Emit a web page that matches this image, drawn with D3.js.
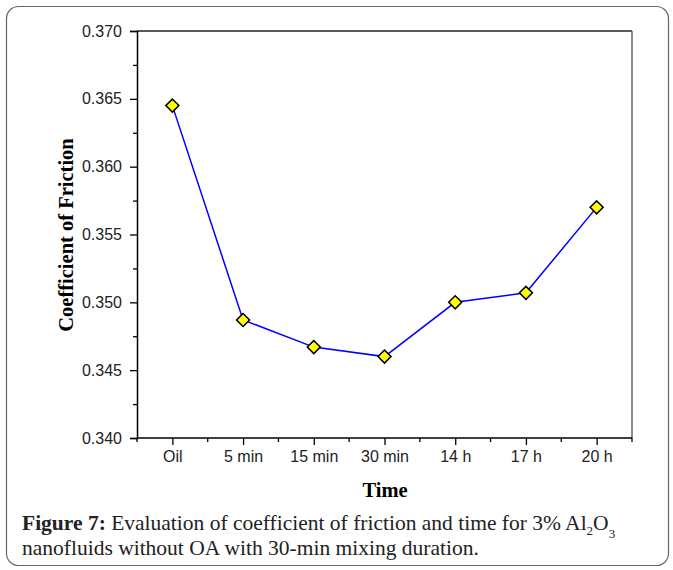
<!DOCTYPE html>
<html><head><meta charset="utf-8">
<script src="https://cdn.jsdelivr.net/npm/d3@7"></script>
<style>body{margin:0;background:#fff}svg{display:block}</style>
</head><body>
<script>
const categories = ["Oil","5 min","15 min","30 min","14 h","17 h","20 h"];
const cof = [0.3645,0.3487,0.3467,0.3460,0.3500,0.3507,0.3570];
const yTicks = [0.340,0.345,0.350,0.355,0.360,0.365,0.370];
const yMinorTicks = [0.3425,0.3475,0.3525,0.3575,0.3625,0.3675];

const W=673,H=570;
const svg=d3.select("body").append("svg").attr("width",W).attr("height",H);
svg.append("rect").attr("x",6.5).attr("y",6.5).attr("width",662).attr("height",559)
  .attr("rx",12).attr("fill","#fff").attr("stroke","#666").attr("stroke-width",1.2);

const L=137,R=632,T=31,B=438;
const x=d3.scalePoint().domain(categories).range([L,R]).padding(0.5);
const y=d3.scaleLinear().domain([0.340,0.370]).range([B,T]);
const step=x.step();

// frame top/right
svg.append("line").attr("x1",L).attr("x2",R).attr("y1",T).attr("y2",T).attr("stroke","#222").attr("stroke-width",1.3);
svg.append("line").attr("x1",R).attr("x2",R).attr("y1",T).attr("y2",B).attr("stroke","#666").attr("stroke-width",1.5);

// y axis
const ya=svg.append("g").attr("transform",`translate(${L},0)`)
  .call(d3.axisLeft(y).tickValues(yTicks).tickFormat(d3.format(".3f")).tickSize(7).tickPadding(8));
ya.select(".domain").attr("stroke","#000").attr("stroke-width",1.5);
ya.selectAll(".tick line").attr("stroke-width",1.3);
ya.selectAll("text").attr("font-family","Liberation Sans, Arial, sans-serif").attr("font-size",16).attr("fill","#222");
svg.append("g").attr("transform",`translate(${L},0)`)
  .call(d3.axisLeft(y).tickValues(yMinorTicks).tickFormat("").tickSize(4))
  .call(g=>g.select(".domain").remove()).selectAll("line").attr("stroke-width",1.3);

// x axis
const xa=svg.append("g").attr("transform",`translate(0,${B})`)
  .call(d3.axisBottom(x).tickSize(7).tickPadding(6));
xa.select(".domain").attr("d",`M${L},0H${R}`).attr("stroke","#000").attr("stroke-width",1.5);
xa.selectAll(".tick line").attr("stroke-width",1.3);
xa.selectAll("text").attr("font-family","Liberation Sans, Arial, sans-serif").attr("font-size",16).attr("fill","#222");
const xMinor=categories.slice(0,-1).map(c=>x(c)+step/2).concat([L,R]);
svg.append("g").selectAll("line").data(xMinor).join("line")
  .attr("x1",d=>d).attr("x2",d=>d).attr("y1",B).attr("y2",B+4).attr("stroke","#000").attr("stroke-width",1.3);

// line
svg.append("path").datum(cof)
  .attr("d",d3.line().x((d,i)=>x(categories[i])).y(d=>y(d)))
  .attr("fill","none").attr("stroke","#0000ff").attr("stroke-width",1.5);
svg.append("g").selectAll("path").data(cof).join("path")
  .attr("d",d3.symbol(d3.symbolSquare,85)).attr("transform",(d,i)=>`translate(${x(categories[i])},${y(d)}) rotate(45)`)
  .attr("fill","#ffff00").attr("stroke","#000").attr("stroke-width",1.5);

// axis titles
svg.append("text").attr("transform","translate(73,235) rotate(-90)").attr("text-anchor","middle")
  .attr("font-family","Liberation Serif, Times New Roman, serif").attr("font-weight","bold").attr("font-size",20.5)
  .text("Coefficient of Friction");
svg.append("text").attr("x",385).attr("y",497).attr("text-anchor","middle")
  .attr("font-family","Liberation Serif, Times New Roman, serif").attr("font-weight","bold").attr("font-size",20.5)
  .text("Time");

// caption
const cap=svg.append("text").attr("x",22).attr("y",530)
  .attr("font-family","Liberation Serif, Times New Roman, serif").attr("font-size",21.5).attr("fill","#222");
cap.append("tspan").attr("font-weight","bold").text("Figure 7:");
cap.append("tspan").text(" Evaluation of coefficient of friction and time for 3% Al");
cap.append("tspan").attr("font-size",13).attr("dy",5).text("2");
cap.append("tspan").attr("dy",-5).text("O");
cap.append("tspan").attr("font-size",13).attr("dy",8).text("3");
svg.append("text").attr("x",22).attr("y",555)
  .attr("font-family","Liberation Serif, Times New Roman, serif").attr("font-size",21.5).attr("fill","#222")
  .text("nanofluids without OA with 30-min mixing duration.");
</script>
</body></html>
